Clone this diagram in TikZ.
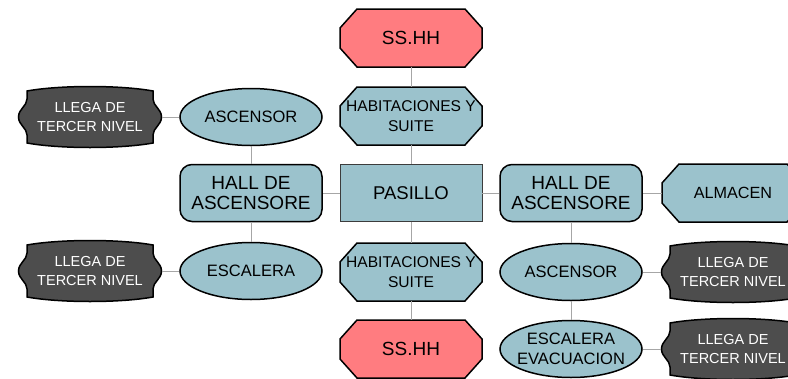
\documentclass[tikz,border=0pt]{standalone}
\usepackage{fontspec}
\setmainfont{Liberation Sans}
\usetikzlibrary{shapes.geometric}

\definecolor{roomblue}{RGB}{155,194,204}
\definecolor{wcred}{RGB}{255,124,128}
\definecolor{plaquegray}{RGB}{77,77,77}
\definecolor{linegray}{RGB}{166,166,166}
\definecolor{edgegray}{RGB}{60,60,60}

% octagon box: #1 name, #2 centre, #3 style, #4 text
\newcommand{\octanode}[4]{%
  \path[octabox, #3, shift={#2}] (-54,-29) -- (54,-29) -- (71,-10) -- (71,10)
    -- (54,29) -- (-54,29) -- (-71,10) -- (-71,-10) -- cycle;
  \node[boxtext, #3, fill=none] (#1) at #2 {#4};
}

% dark plaque behind the "LLEGA DE TERCER NIVEL" labels
\newcommand{\plaquenode}[3]{%
  \path[plaquebox, shift={#2}] (-63,-26) -- (-63,-18)
    .. controls (-63,-11) and (-71.5,-8) .. (-71.5,0)
    .. controls (-71.5,8) and (-63,11) .. (-63,18) -- (-63,26)
    .. controls (-30,32) and (30,32) .. (63,26) -- (63,18)
    .. controls (63,11) and (71.5,8) .. (71.5,0)
    .. controls (71.5,-8) and (63,-11) .. (63,-18) -- (63,-26)
    .. controls (30,-32) and (-30,-32) .. (-63,-26) -- cycle;
  \node[plaque] (#1) at #2 {#3};
}

\begin{document}
\begin{tikzpicture}[
  x=1pt, y=-1pt,
  room/.style={draw=black, line width=1.5pt, fill=roomblue, minimum width=142pt,
    minimum height=57pt, inner sep=1pt, align=center},
  octabox/.style={draw=black, line width=1.5pt, fill=roomblue},
  boxtext/.style={minimum width=142pt, minimum height=58pt, inner sep=1pt, align=center},
  wc/.style={fill=wcred, font=\fontsize{19}{20}\selectfont},
  suite/.style={font=\fontsize{15.6}{20}\selectfont},
  store/.style={font=\fontsize{16.2}{19.5}\selectfont},
  hall/.style={room, rectangle, rounded corners=12pt, font=\fontsize{19}{20}\selectfont},
  lift/.style={room, ellipse, inner xsep=-6pt, font=\fontsize{16.5}{19.5}\selectfont},
  corridor/.style={room, rectangle, draw=edgegray, line width=0.8pt,
    font=\fontsize{18.5}{20}\selectfont},
  plaquebox/.style={draw=black, line width=1.5pt, fill=plaquegray},
  plaque/.style={minimum width=143pt, minimum height=55pt, inner sep=1pt, align=center,
    text=white, font=\fontsize{14.5}{18.7}\selectfont},
  link/.style={draw=linegray, line width=0.8pt},
]
\useasboundingbox (0,0) rectangle (788,378);

% central column
\octanode{ssTop}{(411,38)}{wc}{SS.HH}
\octanode{habTop}{(411,116)}{suite}{HABITACIONES Y\\SUITE}
\node[corridor] (pasillo) at (411,193) {PASILLO};
\octanode{habBot}{(411,272)}{suite}{HABITACIONES Y\\SUITE}
\octanode{ssBot}{(411,349)}{wc}{SS.HH}

% left side
\node[hall] (hallL) at (251,193) {HALL DE\\ASCENSORE};
\node[lift] (ascL) at (251,117) {ASCENSOR};
\node[lift] (escL) at (251,271) {ESCALERA};
\plaquenode{lleL1}{(90,117)}{LLEGA DE\\TERCER NIVEL}
\plaquenode{lleL2}{(90,271)}{LLEGA DE\\TERCER NIVEL}

% right side
\node[hall] (hallR) at (571,193) {HALL DE\\ASCENSORE};
\octanode{almacen}{(733,193)}{store}{ALMACEN}
\node[lift] (ascR) at (571,272) {ASCENSOR};
\node[lift] (escR) at (571,349) {ESCALERA\\EVACUACION};
\plaquenode{lleR1}{(733,272)}{LLEGA DE\\TERCER NIVEL}
\plaquenode{lleR2}{(733,349)}{LLEGA DE\\TERCER NIVEL}

% connectors
\draw[link] (ssTop) -- (habTop);
\draw[link] (habTop) -- (pasillo);
\draw[link] (pasillo) -- (habBot);
\draw[link] (habBot) -- (ssBot);
\draw[link] (pasillo) -- (hallL);
\draw[link] (pasillo) -- (hallR);
\draw[link] (hallL) -- (ascL);
\draw[link] (hallL) -- (escL);
\draw[link] (ascL) -- (lleL1);
\draw[link] (escL) -- (lleL2);
\draw[link] (hallR) -- (almacen);
\draw[link] (hallR) -- (ascR);
\draw[link] (ascR) -- (escR);
\draw[link] (ascR) -- (lleR1);
\draw[link] (escR) -- (lleR2);
\end{tikzpicture}
\end{document}
